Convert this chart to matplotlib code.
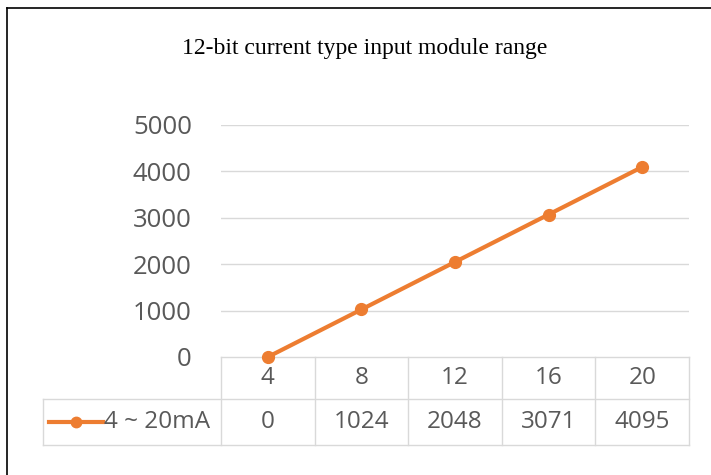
import matplotlib
matplotlib.use("Agg")
import matplotlib.pyplot as plt
from matplotlib.lines import Line2D
from matplotlib.transforms import blended_transform_factory

title = "12-bit current type input module range"
categories = ["4", "8", "12", "16", "20"]
series_name = "4 ~ 20mA"
values = [0, 1024, 2048, 3071, 4095]
yticks = [0, 1000, 2000, 3000, 4000, 5000]

W, H = 711, 475
fig = plt.figure(figsize=(W / 100, H / 100), dpi=100)

orange = "#ED7D31"
gray_txt = "#595959"
grid_c = "#D9D9D9"
num_font = "Open Sans"
tick_fs = 18.5
tab_fs = 17.5

# axes placement (pixels -> figure fraction)
x0, x1 = 221, 689
y_top, y_bot = 125, 357
ax = fig.add_axes([x0 / W, 1 - y_bot / H, (x1 - x0) / W, (y_bot - y_top) / H])
xs = list(range(len(categories)))
ax.plot(xs, values, color=orange, lw=3, marker="o", ms=8.5, mec=orange, mfc=orange,
        solid_capstyle="round", zorder=5, clip_on=False)
ax.set_xlim(-0.5, len(categories) - 0.5)
ax.set_ylim(0, 5000)
ax.set_yticks(yticks)
ax.set_yticklabels([str(v) for v in yticks], fontsize=tick_fs, color=gray_txt, family=num_font)
ax.tick_params(axis="y", length=0, pad=21)
ax.set_xticks([])
for s in ax.spines.values():
    s.set_visible(False)
for v in yticks[1:]:
    ax.axhline(v, color=grid_c, lw=1, zorder=1)

# data table under the axes
tr = blended_transform_factory(ax.transData, ax.transAxes)
row1_b = -42 / (y_bot - y_top)
row2_b = -88 / (y_bot - y_top)
n = len(categories)
px_per_cat = (x1 - x0) / n
leg_left = -0.5 - (x0 - 43) / px_per_cat

def hline(xa, xb, y):
    ax.add_line(Line2D([xa, xb], [y, y], transform=tr, color=grid_c, lw=1, clip_on=False))

def vline(x, ya, yb):
    ax.add_line(Line2D([x, x], [ya, yb], transform=tr, color=grid_c, lw=1, clip_on=False))

hline(-0.5, n - 0.5, 0)
hline(leg_left, n - 0.5, row1_b)
hline(leg_left, n - 0.5, row2_b)
for i in range(n + 1):
    vline(i - 0.5, 0, row2_b)
vline(leg_left, row1_b, row2_b)

for i, (c, v) in enumerate(zip(categories, values)):
    ax.text(i, row1_b / 2, c, transform=tr, ha="center", va="center",
            fontsize=tab_fs, color=gray_txt, family=num_font)
    ax.text(i, (row1_b + row2_b) / 2, str(v), transform=tr, ha="center", va="center",
            fontsize=tab_fs, color=gray_txt, family=num_font)

# legend key inside the table
ly = (row1_b + row2_b) / 2
lx_a = leg_left + 6 / px_per_cat
lx_b = leg_left + 60 / px_per_cat
ax.add_line(Line2D([lx_a, lx_b], [ly, ly], transform=tr, color=orange, lw=3, clip_on=False))
ax.add_line(Line2D([(lx_a + lx_b) / 2], [ly], transform=tr, color=orange, marker="o", ms=7.5,
                   clip_on=False))
ax.text(lx_b + 1 / px_per_cat, ly, series_name, transform=tr, ha="left", va="center",
        fontsize=tab_fs, color=gray_txt, family=num_font)

# title
fig.text(365 / W, 1 - 54 / H, title, ha="center", va="baseline", fontsize=17,
         family="Liberation Serif", color="black")

# frame lines (top and left)
fig.add_artist(Line2D([7 / W, 1], [1 - 8 / H, 1 - 8 / H], transform=fig.transFigure,
                      color="black", lw=1.2))
fig.add_artist(Line2D([7 / W, 7 / W], [0, 1 - 8 / H], transform=fig.transFigure,
                      color="black", lw=1.2))

fig.savefig("out.png", dpi=100)
